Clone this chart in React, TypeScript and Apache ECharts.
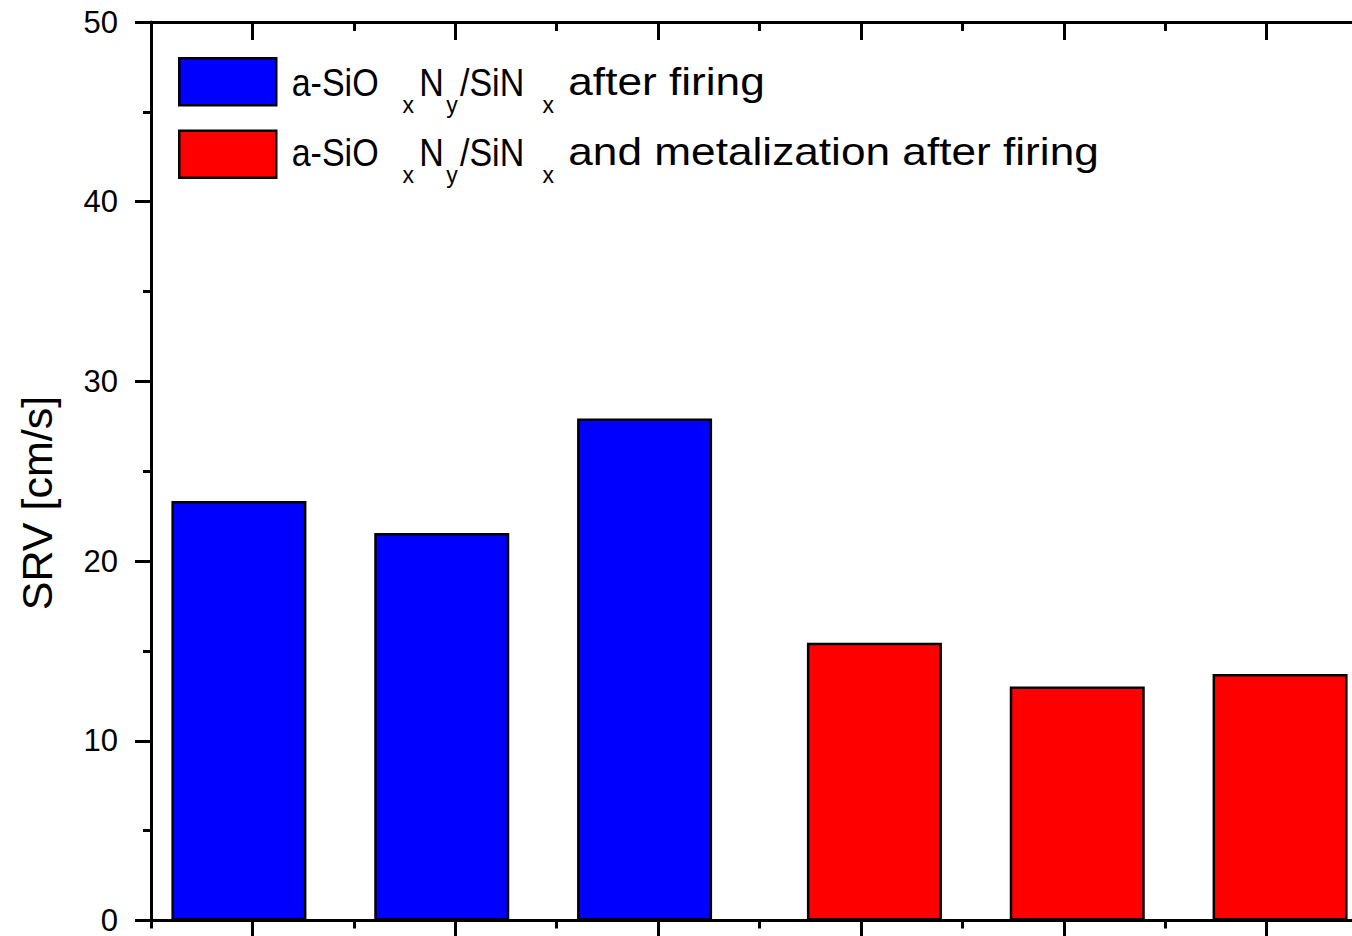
import React, { useEffect, useRef } from "react";
import * as echarts from "echarts";

const categories = ["1", "2", "3", "4", "5", "6"];
const afterFiring = [23.35, 21.57, 27.94, "-", "-", "-"];
const metalization = ["-", "-", "-", 15.46, 13.02, 13.72];
const seriesNames = [
  "a-SiOxNy/SiNx after firing",
  "a-SiOxNy/SiNx and metalization after firing",
];
const legendTails = ["after firing", "and metalization after firing"];
const formulaParts = ["a-SiO", "x", "N", "y", "/SiN", "x"];
const yTicks = { min: 0, max: 50, interval: 10 };
const yTitle = "SRV [cm/s]";

const FONT = "'Liberation Sans', Arial, Helvetica, sans-serif";

export default function App() {
  const ref = useRef<HTMLDivElement>(null);
  useEffect(() => {
    if (!ref.current) return;
    const chart = echarts.init(ref.current, undefined, { renderer: "svg" });
    const axisLine = { show: true, lineStyle: { color: "#000", width: 3 } };
    const tick = (len: number, inside: boolean, align: boolean) => ({
      show: true,
      inside,
      length: len,
      alignWithLabel: align,
      lineStyle: { color: "#000", width: 3 },
    });
    const catAxis = (pos: string, showLine: boolean, tk: any) => ({
      type: "category",
      data: categories,
      position: pos,
      boundaryGap: true,
      axisLine: showLine ? axisLine : { show: false },
      axisTick: tk,
      axisLabel: { show: false },
      splitLine: { show: false },
    });

    // legend label texts (formula with subscripts), drawn as real text
    const mainFs = 38;
    const subFs = 23;
    const partX = [291.7, 402.5, 419.3, 446.2, 460, 542.5];
    const isSub = [false, true, false, true, false, true];
    const tailX = 568.3;
    const baselines = [95.7, 165.7];
    const legendTexts: any[] = [];
    baselines.forEach((base, row) => {
      formulaParts.forEach((p, i) => {
        const sub = isSub[i];
        const fs = sub ? subFs : mainFs;
        const bl = sub ? base + 17.6 : base;
        legendTexts.push({
          type: "text",
          x: partX[i],
          y: bl - 0.3465 * fs,
          scaleX: sub ? 1.0 : 0.895,
          style: {
            text: p,
            fontSize: fs,
            fontFamily: FONT,
            fill: "#000",
            align: "left",
            verticalAlign: "middle",
          },
        });
      });
      legendTexts.push({
        type: "text",
        x: tailX,
        y: base - 0.3465 * mainFs,
        scaleX: 1.163,
        style: {
          text: legendTails[row],
          fontSize: mainFs,
          fontFamily: FONT,
          fill: "#000",
          align: "left",
          verticalAlign: "middle",
        },
      });
    });

    const option: any = {
      animation: false,
      backgroundColor: "#fff",
      grid: { left: 151, right: 12, top: 22, bottom: 14.5, containLabel: false },
      legend: {
        show: true,
        orient: "vertical",
        left: 178,
        top: 57,
        padding: 0,
        itemGap: 23,
        itemWidth: 97,
        itemHeight: 47,
        icon: "rect",
        selectedMode: false,
        itemStyle: { borderColor: "#000", borderWidth: 2.5 },
        data: seriesNames,
        formatter: () => "",
        textStyle: { fontSize: 1 },
      },
      xAxis: [
        catAxis("bottom", true, tick(16, false, true)),
        catAxis("bottom", false, tick(8, false, false)),
        catAxis("top", true, tick(18, true, true)),
        catAxis("top", false, tick(9, true, false)),
      ],
      yAxis: [
        {
          type: "value",
          position: "left",
          min: yTicks.min,
          max: yTicks.max,
          interval: yTicks.interval,
          axisLine,
          axisTick: tick(16, false, false),
          minorTick: {
            show: true,
            splitNumber: 2,
            length: 8,
            lineStyle: { color: "#000", width: 3 },
          },
          splitLine: { show: false },
          minorSplitLine: { show: false },
          axisLabel: {
            show: true,
            fontSize: 31,
            fontFamily: FONT,
            color: "#000",
            margin: 33,
          },
        },
        {
          type: "value",
          position: "right",
          min: yTicks.min,
          max: yTicks.max,
          interval: yTicks.interval,
          axisLine,
          axisTick: tick(16, true, false),
          minorTick: {
            show: true,
            splitNumber: 2,
            length: 8,
            lineStyle: { color: "#000", width: 3 },
          },
          splitLine: { show: false },
          axisLabel: { show: false },
        },
      ],
      graphic: [
        {
          type: "text",
          x: 37,
          y: 503,
          rotation: Math.PI / 2,
          style: {
            text: yTitle,
            fontSize: 43,
            fontFamily: FONT,
            fill: "#000",
            align: "center",
            verticalAlign: "middle",
          },
        },
        ...legendTexts,
      ],
      series: [
        {
          name: seriesNames[0],
          type: "bar",
          xAxisIndex: 0,
          yAxisIndex: 0,
          data: afterFiring,
          barWidth: 135,
          barGap: "-80%",
          itemStyle: { color: "#0000FF", borderColor: "#000", borderWidth: 2.5 },
        },
        {
          name: seriesNames[1],
          type: "bar",
          xAxisIndex: 0,
          yAxisIndex: 0,
          data: metalization,
          barWidth: 135,
          barGap: "-80%",
          itemStyle: { color: "#FF0000", borderColor: "#000", borderWidth: 2.5 },
        },
      ],
    };
    chart.setOption(option);
    return () => chart.dispose();
  }, []);
  return (
    <div
      style={{
        position: "absolute",
        left: 0,
        top: 0,
        width: 1352,
        height: 936,
        overflow: "hidden",
      }}
    >
      <div ref={ref} style={{ width: 1380, height: 936 }} />
    </div>
  );
}
